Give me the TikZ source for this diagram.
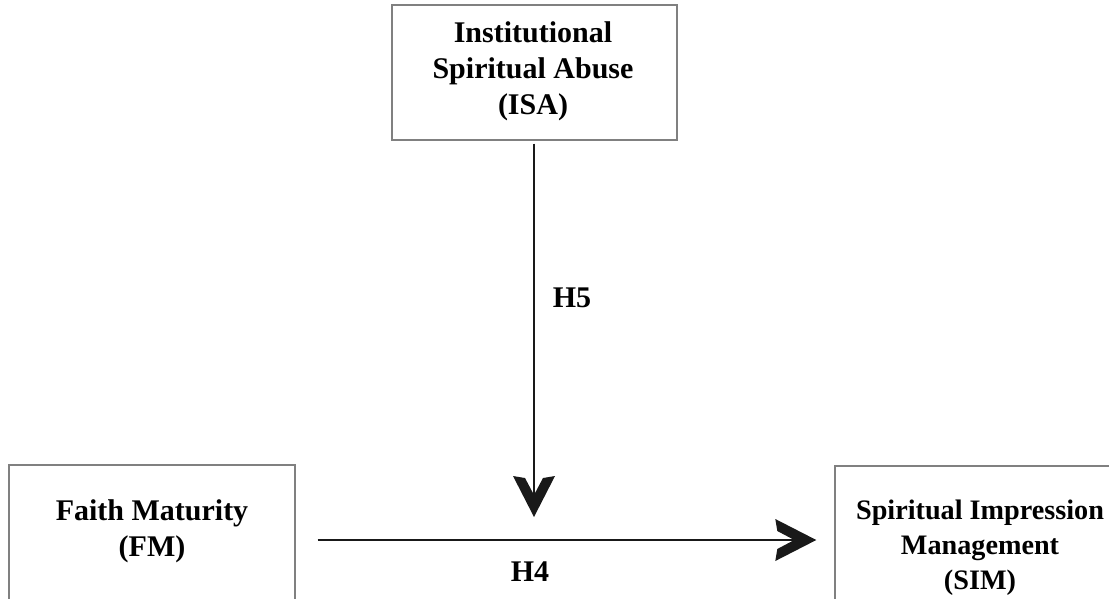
\documentclass[tikz,border=0pt]{standalone}
\usepackage{fontspec}
\setmainfont{Liberation Serif}
\usetikzlibrary{arrows.meta}
\pgfdeclarearrow{
  name=Chev,
  setup code={
    \pgfarrowssettipend{0pt}
    \pgfarrowssetlineend{-17pt}
    \pgfarrowssetvisualbackend{-41pt}
    \pgfarrowssetbackend{-41pt}
    \pgfarrowshullpoint{0pt}{0pt}
    \pgfarrowshullpoint{-41pt}{21pt}
    \pgfarrowshullpoint{-41pt}{-21pt}
  },
  drawing code={
    \pgfpathmoveto{\pgfpoint{0pt}{0pt}}
    \pgfpathlineto{\pgfpoint{-41pt}{21pt}}
    \pgfpathlineto{\pgfpoint{-39pt}{9pt}}
    \pgfpathlineto{\pgfpoint{-22pt}{0pt}}
    \pgfpathlineto{\pgfpoint{-39pt}{-9pt}}
    \pgfpathlineto{\pgfpoint{-41pt}{-21pt}}
    \pgfpathclose
    \pgfusepathqfill
  }
}
\tikzset{
  box/.style={draw=black!50, line width=1.4pt, rectangle, inner sep=0pt},
  lbl/.style={font=\fontsize{30}{36}\selectfont\bfseries, align=center, inner sep=0pt},
  conn/.style={draw=black!90, line width=2.4pt, -{Chev}}
}
\begin{document}
\begin{tikzpicture}[x=1pt,y=-1pt]
\useasboundingbox (0,0) rectangle (1109,598);
\clip (0,0) rectangle (1109,598);
% boxes
\node[box, minimum width=285pt, minimum height=135pt] (ISA) at (534.5,72.5) {};
\node[lbl] (ISAt) at (533,71) {Institutional\\Spiritual Abuse\\(ISA)};
\node[box, minimum width=286pt, minimum height=150pt] (FM) at (152,540) {};
\node[lbl] (FMt) at (152,531) {Faith Maturity\\(FM)};
\node[box, minimum width=290pt, minimum height=150pt] (SIM) at (980,541) {};
\node[lbl, font=\fontsize{28.2}{35}\selectfont\bfseries] (SIMt) at (980,548) {Spiritual Impression\\Management\\(SIM)};
% connectors
\coordinate (m) at (534,517);
\draw[conn, shorten <=3pt] (ISA.south -| m) -- (m);
\draw[conn, shorten <=22pt, shorten >=18pt] (FM.east |- 0,540) -- (SIM.west |- 0,540);
% labels
\node[lbl] (H5) at (572,298) {H5};
\node[lbl] (H4) at (530,572) {H4};
\end{tikzpicture}
\end{document}
